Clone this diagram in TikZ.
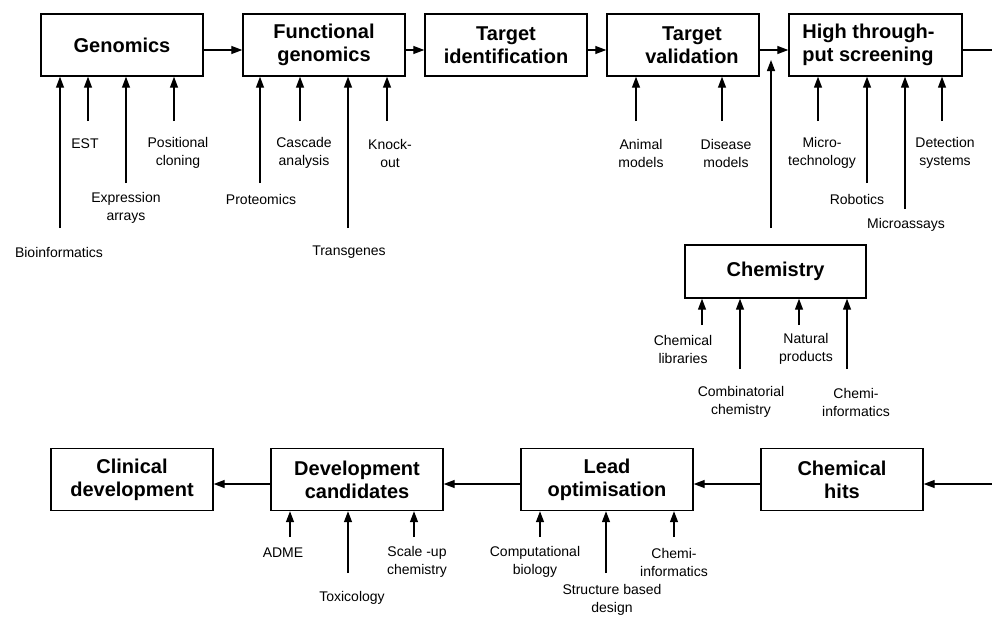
\documentclass[tikz,border=0pt]{standalone}
\usepackage{fontspec}
\setmainfont{Liberation Sans}
\usetikzlibrary{arrows.meta}

\begin{document}
\begin{tikzpicture}[x=1pt, y=-1pt,
  stage/.style={draw, line width=1.4pt, minimum height=62pt, align=center, inner sep=2pt,
    font=\bfseries\fontsize{20}{23}\selectfont},
  tag/.style={align=center, inner sep=0pt, font=\fontsize{14}{18}\selectfont},
  feed/.style={line width=1.3pt, -{Triangle[length=11pt, width=8pt]}},
  flow/.style={line width=1.3pt, -{Triangle[length=11pt, width=8pt]}}]

\useasboundingbox (0,0) rectangle (992,618);

% top row
\node[stage, minimum width=162pt] (genomics) at (122,45) {Genomics};
\node[stage, minimum width=162pt] (fgen) at (324,45) {Functional\\genomics};
\node[stage, minimum width=162pt] (tid) at (506,45) {Target\\identification};
\node[stage, minimum width=152pt] (tval) at (683,45) {\hspace*{18pt}Target\\\hspace*{18pt}validation};
\node[stage, minimum width=173pt, align=left] (hts) at (875.5,45) {High through-\hspace*{14pt}\\put screening\hspace*{14pt}};

\draw[flow] ([yshift=-5pt]genomics.east) -- ([yshift=-5pt]fgen.west);
\draw[flow] ([yshift=-5pt]fgen.east) -- ([yshift=-5pt]tid.west);
\draw[flow] ([yshift=-5pt]tid.east) -- ([yshift=-5pt]tval.west);
\draw[flow] ([yshift=-5pt]tval.east) -- ([yshift=-5pt]hts.west);

% chemistry
\node[stage, minimum width=181pt, minimum height=53pt] (chem) at (775.5,271.5) {Chemistry};
\coordinate (chemout) at (771,228);
\coordinate (chemin) at (771,60);
\draw[feed] (chemout) -- (chemin);

% bottom row
\node[stage, minimum width=162pt] (clin) at (132,479.5) {Clinical\\development};
\node[stage, minimum width=172pt] (devc) at (357,479.5) {Development\\candidates};
\node[stage, minimum width=172pt] (lead) at (607,479.5) {Lead\\optimisation};
\node[stage, minimum width=162pt] (hits) at (842,479.5) {Chemical\\hits};

\draw[flow] ([yshift=-5pt]hts.east) -- ++(60,0) |- ([yshift=-4.5pt]hits.east);
\draw[flow] ([yshift=-4.5pt]hits.west) -- ([yshift=-4.5pt]lead.east);
\draw[flow] ([yshift=-4.5pt]lead.west) -- ([yshift=-4.5pt]devc.east);
\draw[flow] ([yshift=-4.5pt]devc.west) -- ([yshift=-4.5pt]clin.east);

% inputs to genomics
\node[tag] (lbioinf) at (59,252) {Bioinformatics};
\node[tag] (lest) at (85,144) {EST};
\node[tag] (lexarr) at (126,208) {Expression\\arrays};
\node[tag] (lposcl) at (178,153) {Positional\\cloning};
\coordinate (bioinf) at (60,228);
\coordinate (est) at (88,121);
\coordinate (exarr) at (126,183);
\coordinate (poscl) at (174,121);
\draw[feed] (bioinf) -- (bioinf |- genomics.south);
\draw[feed] (est) -- (est |- genomics.south);
\draw[feed] (exarr) -- (exarr |- genomics.south);
\draw[feed] (poscl) -- (poscl |- genomics.south);

% inputs to functional genomics
\node[tag] (lprot) at (261,199) {Proteomics};
\node[tag] (lcasc) at (304,153) {Cascade\\analysis};
\node[tag] (ltrans) at (349,252) {Transgenes};
\node[tag] (lknock) at (390,153) {Knock-\\out};
\coordinate (prot) at (260,183);
\coordinate (casc) at (300,121);
\coordinate (trans) at (348,228);
\coordinate (knock) at (387,121);
\draw[feed] (prot) -- (prot |- fgen.south);
\draw[feed] (casc) -- (casc |- fgen.south);
\draw[feed] (trans) -- (trans |- fgen.south);
\draw[feed] (knock) -- (knock |- fgen.south);

% inputs to target validation
\node[tag] (lanim) at (641,153) {Animal\\models};
\node[tag] (ldis) at (726,153) {Disease\\models};
\coordinate (anim) at (636,121);
\coordinate (dis) at (722,121);
\draw[feed] (anim) -- (anim |- tval.south);
\draw[feed] (dis) -- (dis |- tval.south);

% inputs to screening
\node[tag] (lmicro) at (822,153) {Micro-\\technology};
\node[tag] (lrobo) at (857,199) {Robotics};
\node[tag] (lmassay) at (906,225) {Microassays};
\node[tag] (ldetect) at (945,153) {Detection\\systems};
\coordinate (micro) at (818,121);
\coordinate (robo) at (867,183);
\coordinate (massay) at (905,209);
\coordinate (detect) at (942,121);
\draw[feed] (micro) -- (micro |- hts.south);
\draw[feed] (robo) -- (robo |- hts.south);
\draw[feed] (massay) -- (massay |- hts.south);
\draw[feed] (detect) -- (detect |- hts.south);

% inputs to chemistry
\node[tag] (lchlib) at (683,349) {Chemical\\libraries};
\node[tag] (lcomb) at (741,402) {Combinatorial\\chemistry};
\node[tag] (lnat) at (806,349) {Natural\\products};
\node[tag] (lcinf) at (856,402) {Chemi-\\informatics};
\coordinate (chlib) at (702,325);
\coordinate (comb) at (740,369);
\coordinate (nat) at (799,325);
\coordinate (cinf) at (847,369);
\draw[feed] (chlib) -- (chlib |- chem.south);
\draw[feed] (comb) -- (comb |- chem.south);
\draw[feed] (nat) -- (nat |- chem.south);
\draw[feed] (cinf) -- (cinf |- chem.south);

% inputs to development candidates
\node[tag] (ladme) at (283,553) {ADME};
\node[tag] (ltox) at (352,598) {Toxicology};
\node[tag] (lscale) at (417,562) {Scale -up\\chemistry};
\coordinate (adme) at (290,537);
\coordinate (tox) at (348,573);
\coordinate (scale) at (414,537);
\draw[feed] (adme) -- (adme |- devc.south);
\draw[feed] (tox) -- (tox |- devc.south);
\draw[feed] (scale) -- (scale |- devc.south);

% inputs to lead optimisation
\node[tag] (lcomp) at (535,562) {Computational\\biology};
\node[tag] (lsbd) at (612,600) {Structure based\\design};
\node[tag] (lcinfb) at (674,562) {Chemi-\\informatics};
\coordinate (comp) at (540,537);
\coordinate (sbd) at (606,573);
\coordinate (cinfb) at (674,537);
\draw[feed] (comp) -- (comp |- lead.south);
\draw[feed] (sbd) -- (sbd |- lead.south);
\draw[feed] (cinfb) -- (cinfb |- lead.south);

\end{tikzpicture}
\end{document}
